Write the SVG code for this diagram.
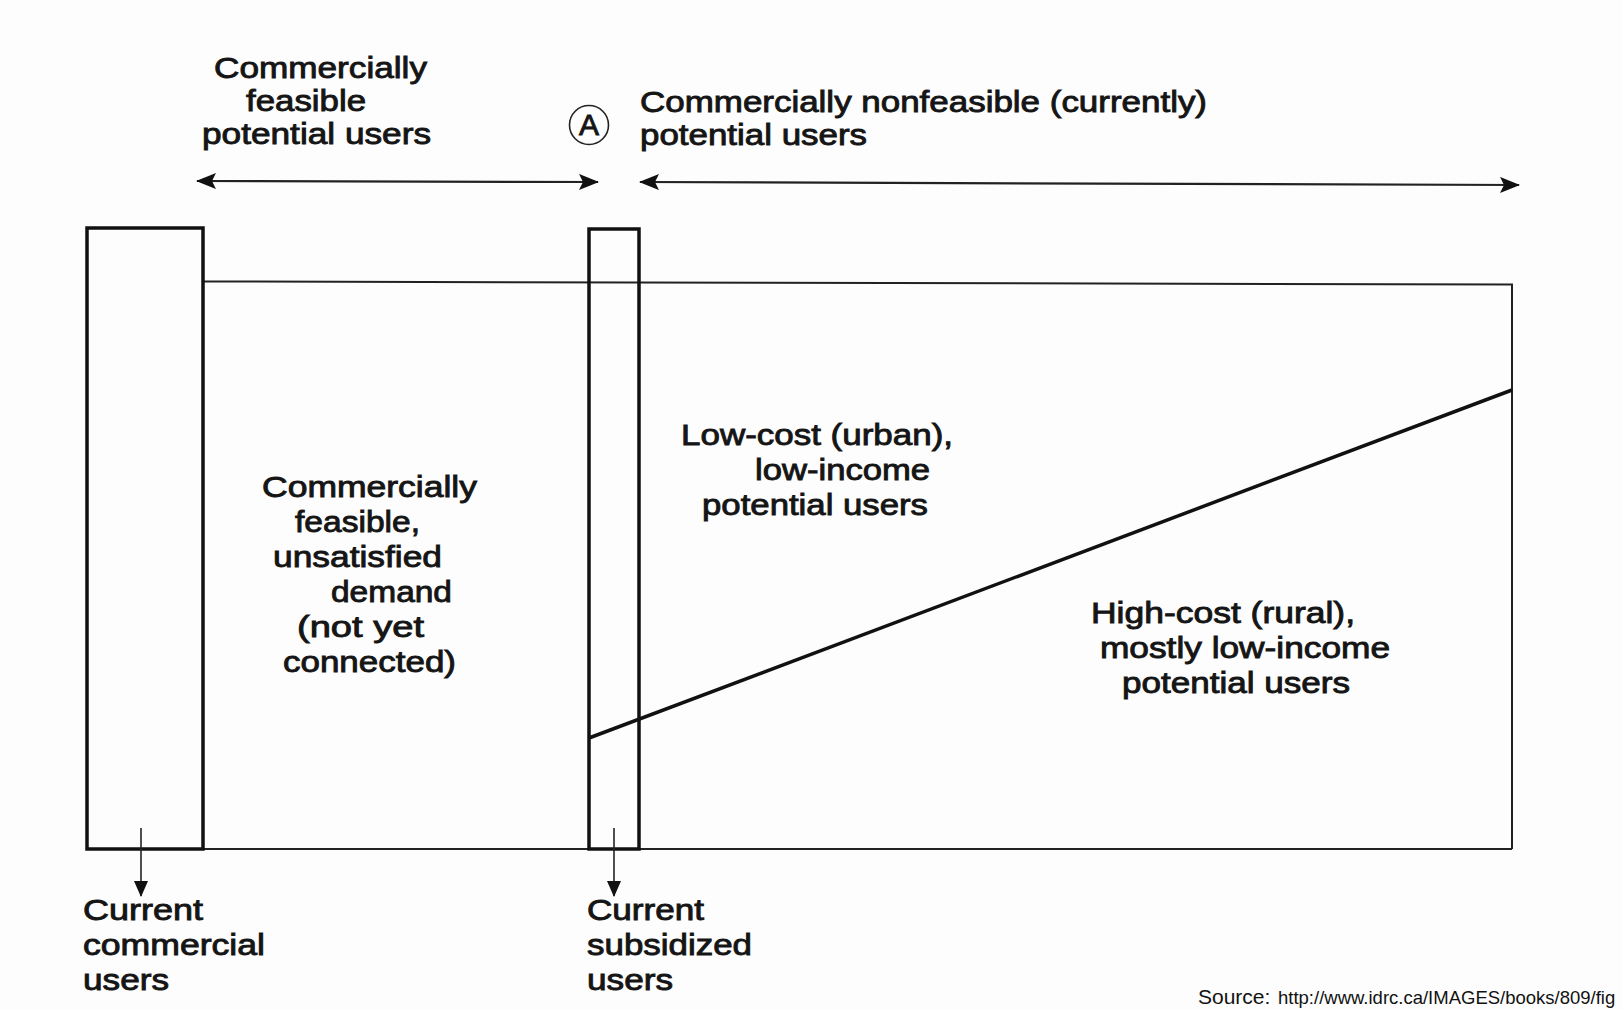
<svg xmlns="http://www.w3.org/2000/svg" width="1623" height="1010" viewBox="0 0 1623 1010">
<style>
.t{font-family:"Liberation Sans",Arial,Helvetica,sans-serif;font-size:30px;fill:#151515;stroke:#151515;stroke-width:0.9}
.thick{fill:none;stroke:#111;stroke-width:3.5}
.thin{fill:none;stroke:#222;stroke-width:2}
.arr{stroke:#222;stroke-width:2.2;fill:none}
.sm{stroke:#222;stroke-width:1.6;fill:none}
</style>
<defs>
<marker id="ah" viewBox="0 0 20 16" refX="19" refY="8" markerWidth="20" markerHeight="16" markerUnits="userSpaceOnUse" orient="auto-start-reverse">
<path d="M0,0 L20,8 L0,16 L4,8 Z" fill="#111"/>
</marker>
<marker id="ahs" viewBox="0 0 16 14" refX="15" refY="7" markerWidth="16" markerHeight="14" markerUnits="userSpaceOnUse" orient="auto">
<path d="M0,0 L16,7 L0,14 Z" fill="#111"/>
</marker>
</defs>
<rect width="1623" height="1010" fill="#fdfdfd"/>

<g id="region-outline">
<polyline class="thin" points="203,281.5 1512,284.5 1512,849"/>
<line class="thin" x1="87" y1="849" x2="1512" y2="849" stroke-width="2.5"/>
</g>

<g id="current-commercial-bar">
<rect class="thick" x="87" y="228" width="116" height="621"/>
</g>

<g id="current-subsidized-bar">
<rect class="thick" x="589" y="229" width="50" height="620" stroke-width="3"/>
</g>

<g id="divider-line">
<line class="thick" x1="589" y1="738" x2="1512" y2="390"/>
</g>

<g id="marker-A">
<circle cx="589" cy="125" r="19.5" fill="none" stroke="#222" stroke-width="1.6"/>
<text class="t" x="589" y="135" text-anchor="middle" font-size="28">A</text>
</g>

<g id="connectors">
<line class="arr" x1="197" y1="181" x2="598" y2="182" marker-start="url(#ah)" marker-end="url(#ah)"/>
<line class="arr" x1="640" y1="182" x2="1519" y2="185" marker-start="url(#ah)" marker-end="url(#ah)"/>
<line class="sm" x1="141" y1="828" x2="141" y2="896" marker-end="url(#ahs)"/>
<line class="sm" x1="614" y1="828" x2="614" y2="896" marker-end="url(#ahs)"/>
</g>

<g id="label-feasible-potential">
<text class="t" x="214" y="78" textLength="213" lengthAdjust="spacingAndGlyphs">Commercially</text>
<text class="t" x="246" y="111" textLength="120" lengthAdjust="spacingAndGlyphs">feasible</text>
<text class="t" x="202" y="144" textLength="229" lengthAdjust="spacingAndGlyphs">potential users</text>
</g>

<g id="label-nonfeasible-potential">
<text class="t" x="640" y="112" textLength="567" lengthAdjust="spacingAndGlyphs">Commercially nonfeasible (currently)</text>
<text class="t" x="640" y="145" textLength="227" lengthAdjust="spacingAndGlyphs">potential users</text>
</g>

<g id="label-unsatisfied-demand">
<text class="t" x="262" y="497" textLength="215" lengthAdjust="spacingAndGlyphs">Commercially</text>
<text class="t" x="295" y="532" textLength="125" lengthAdjust="spacingAndGlyphs">feasible,</text>
<text class="t" x="273" y="567" textLength="169" lengthAdjust="spacingAndGlyphs">unsatisfied</text>
<text class="t" x="331" y="602" textLength="121" lengthAdjust="spacingAndGlyphs">demand</text>
<text class="t" x="297" y="637" textLength="127" lengthAdjust="spacingAndGlyphs">(not yet</text>
<text class="t" x="283" y="672" textLength="173" lengthAdjust="spacingAndGlyphs">connected)</text>
</g>

<g id="label-low-cost">
<text class="t" x="681" y="445" textLength="272" lengthAdjust="spacingAndGlyphs">Low-cost (urban),</text>
<text class="t" x="755" y="480" textLength="175" lengthAdjust="spacingAndGlyphs">low-income</text>
<text class="t" x="702" y="515" textLength="226" lengthAdjust="spacingAndGlyphs">potential users</text>
</g>

<g id="label-high-cost">
<text class="t" x="1091" y="623" textLength="264" lengthAdjust="spacingAndGlyphs">High-cost (rural),</text>
<text class="t" x="1100" y="658" textLength="290" lengthAdjust="spacingAndGlyphs">mostly low-income</text>
<text class="t" x="1122" y="693" textLength="228" lengthAdjust="spacingAndGlyphs">potential users</text>
</g>

<g id="label-current-commercial">
<text class="t" x="83" y="920" textLength="120" lengthAdjust="spacingAndGlyphs">Current</text>
<text class="t" x="83" y="955" textLength="182" lengthAdjust="spacingAndGlyphs">commercial</text>
<text class="t" x="83" y="990" textLength="86" lengthAdjust="spacingAndGlyphs">users</text>
</g>

<g id="label-current-subsidized">
<text class="t" x="587" y="920" textLength="117" lengthAdjust="spacingAndGlyphs">Current</text>
<text class="t" x="587" y="955" textLength="165" lengthAdjust="spacingAndGlyphs">subsidized</text>
<text class="t" x="587" y="990" textLength="86" lengthAdjust="spacingAndGlyphs">users</text>
</g>

<g id="source">
<text x="1198" y="1004" font-family="Liberation Sans,Arial,sans-serif" font-size="21" fill="#111">Source: <tspan x="1278" font-size="18.5">http://www.idrc.ca/IMAGES/books/809/fig</tspan></text>
</g>
</svg>
